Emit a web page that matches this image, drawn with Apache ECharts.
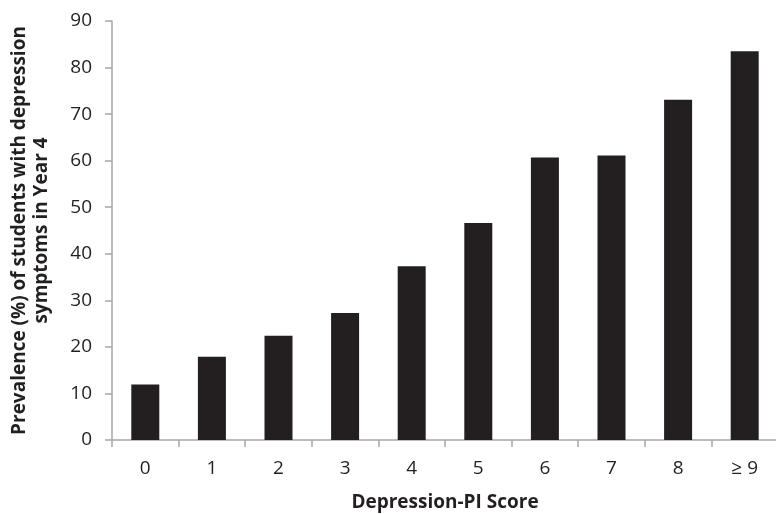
<!DOCTYPE html>
<html>
<head>
<meta charset="utf-8">
<script src="https://cdn.jsdelivr.net/npm/echarts@6/dist/echarts.min.js"></script>
<style>
html,body{margin:0;padding:0;background:#fff;}
#chart{width:776px;height:514px;}
</style>
</head>
<body>
<div id="chart"></div>
<script>
const categories = ['0', '1', '2', '3', '4', '5', '6', '7', '8', '\u2265 9'];
const prevalence = [11.9, 17.9, 22.4, 27.3, 37.3, 46.6, 60.7, 61.1, 73.1, 83.5];
const yTicks = { min: 0, max: 90, interval: 10 };
const xTitle = 'Depression-PI Score';
const yTitle = 'Prevalence (%) of students with depression\nsymptoms in Year 4';

const font = 'Open Sans';
const chart = echarts.init(document.getElementById('chart'), null, { renderer: 'canvas' });
chart.setOption({
  animation: false,
  backgroundColor: '#ffffff',
  grid: { left: 112, top: 21, width: 666, height: 419, containLabel: false, outerBoundsMode: 'none' },
  xAxis: {
    type: 'category',
    data: categories,
    boundaryGap: true,
    name: xTitle,
    nameLocation: 'middle',
    nameGap: 53,
    nameTextStyle: { fontFamily: font, fontWeight: 'bold', fontSize: 19, color: '#231f20' },
    axisLine: { lineStyle: { color: '#a6a6a6', width: 1.5 } },
    axisTick: { show: true, length: 7, alignWithLabel: false, lineStyle: { color: '#a6a6a6', width: 1.5 } },
    axisLabel: { fontFamily: font, fontSize: 19, color: '#231f20', margin: 19 }
  },
  yAxis: {
    type: 'value',
    min: yTicks.min,
    max: yTicks.max,
    interval: yTicks.interval,
    name: yTitle,
    nameLocation: 'middle',
    nameGap: 59,
    nameRotate: 90,
    nameTextStyle: { fontFamily: font, fontWeight: 'bold', fontSize: 19, color: '#231f20', lineHeight: 22, align: 'center' },
    axisLine: { show: true, lineStyle: { color: '#a6a6a6', width: 1.5 } },
    axisTick: { show: true, length: 7, lineStyle: { color: '#a6a6a6', width: 1.5 } },
    splitLine: { show: false },
    axisLabel: { fontFamily: font, fontSize: 19, color: '#231f20', margin: 20 }
  },
  series: [{
    type: 'bar',
    data: prevalence,
    barWidth: 28,
    itemStyle: { color: '#231f20' }
  }]
});
</script>
</body>
</html>
